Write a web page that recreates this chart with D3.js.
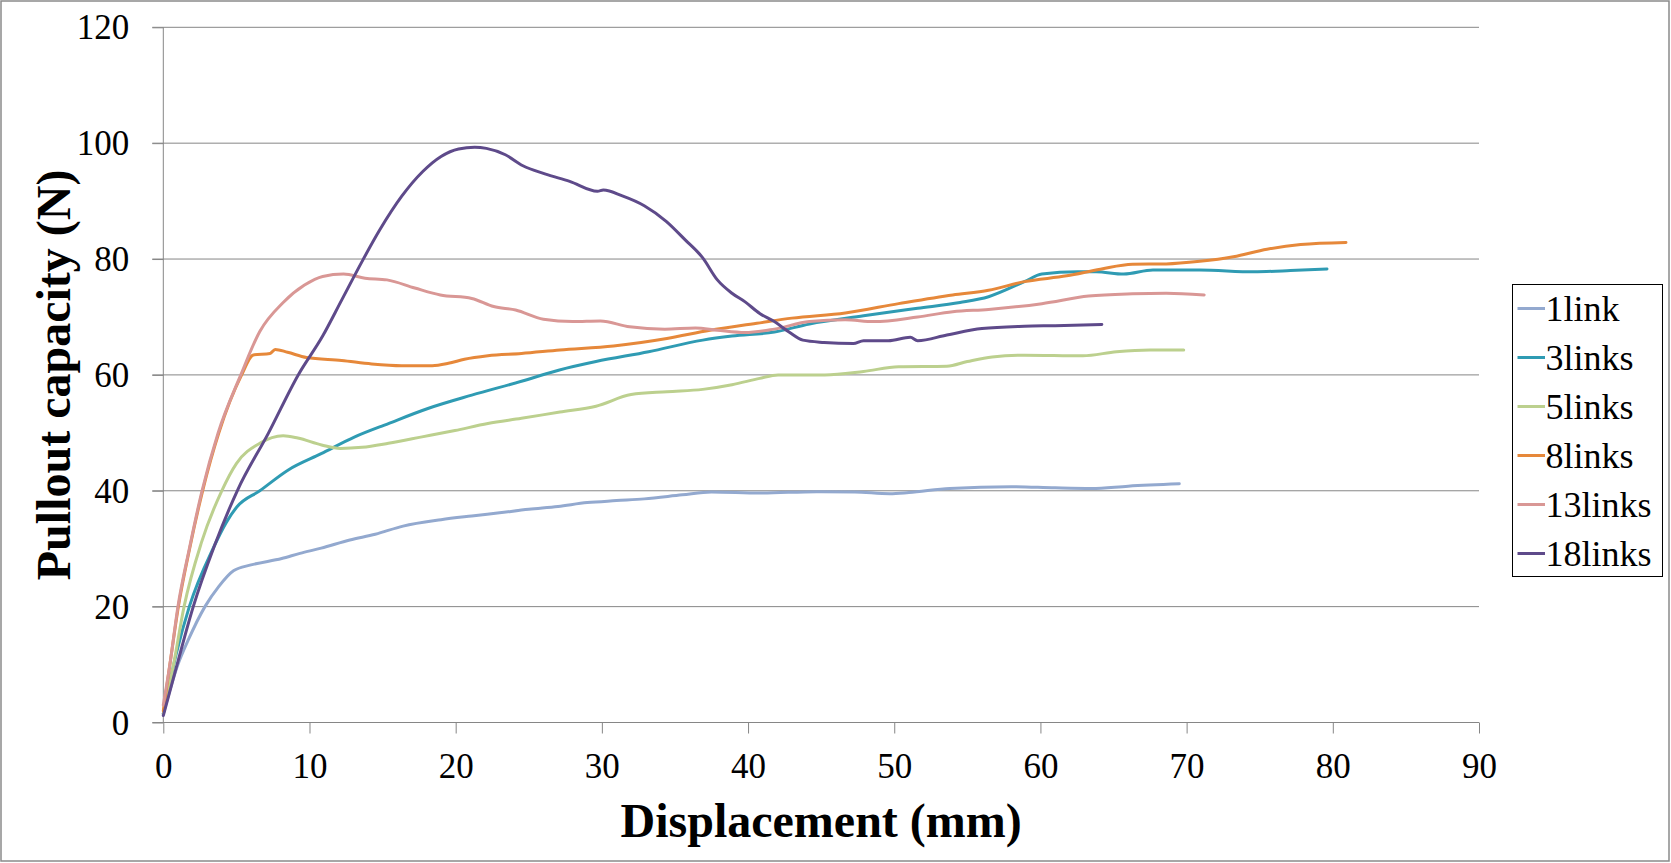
<!DOCTYPE html>
<html>
<head>
<meta charset="utf-8">
<script src="https://cdn.jsdelivr.net/npm/d3@7"></script>
<style>
  body { margin: 0; background: #fff; }
  svg text { font-family: "Liberation Serif", "Times New Roman", serif; fill: #000; }
  .grid line { stroke: #868686; stroke-width: 1; }
  .axis path, .axis line { stroke: #868686; }
  .axis text { font-size: 35px; }
</style>
</head>
<body>
<svg id="chart" width="1671" height="863"></svg>
<script>
// series names and colours
const seriesNames = ['1link', '3links', '5links', '8links', '13links', '18links'];
const seriesColors = ['#93a9cf', '#2f9bb3', '#bcd08e', '#e6883a', '#d99795', '#5e4a8a'];

const xTicks = [0, 10, 20, 30, 40, 50, 60, 70, 80, 90];
const yTicks = [0, 20, 40, 60, 80, 100, 120];

// [displacement (mm), pullout capacity (N)]
const link1 = [[0,1.5],[1,10],[1.7,14.2],[2.85,20],[3.8,23.5],[4.8,26.2],[6,27.2],[8.1,28.3],[9.35,29.2],
  [10.8,30.1],[12.76,31.5],[14.5,32.5],[16.4,33.9],[19,35],[21.1,35.65],[23,36.2],[25,36.8],[27,37.3],
  [29,37.96],[31,38.3],[32.9,38.6],[35.5,39.3],[37.5,39.8],[40.8,39.6],[44.7,39.85],[47.3,39.8],[49.7,39.5],
  [51,39.7],[53.8,40.4],[58,40.7],[61,40.5],[63.5,40.4],[66,40.8],[69.5,41.2]];

const links3 = [[0,1.5],[0.9,12],[1.78,20],[3.4,30],[4.3,34.5],[5.03,37.2],[6.6,40],[8.55,43.6],[10.8,46.4],
  [13.1,49.3],[15.4,51.6],[18.1,54.2],[21.1,56.5],[24.5,58.9],[27.1,60.85],[29.6,62.3],[33.2,64],
  [36.9,66],[38.9,66.7],[41.8,67.4],[44.2,68.8],[47.9,70.2],[51.6,71.5],[54.5,72.5],[56.45,73.5],
  [58.9,76.1],[60.1,77.4],[62.55,77.8],[63.8,77.8],[65.7,77.4],[67.7,78.1],[70.9,78.1],[74.6,77.8],
  [77.1,78],[79.6,78.3]];

const links5 = [[0,1.5],[0.7,10],[1.42,20],[2.6,31],[4,40],[5,44.7],[6.6,48.2],[8.2,49.5],[9.2,49.1],
  [10.83,47.9],[12.1,47.3],[13.6,47.5],[15.4,48.2],[17.7,49.3],[19.95,50.4],[22.2,51.6],[24.5,52.5],
  [27.13,53.6],[29.6,54.6],[32,56.6],[34.45,57.1],[36.9,57.5],[38.9,58.3],[40.8,59.4],[42.05,60],
  [45.25,60],[47.9,60.6],[50.3,61.4],[53.6,61.5],[55,62.3],[56.7,63.1],[58.9,63.4],[62.9,63.3],
  [65.2,64],[67.5,64.3],[69.8,64.3]];

const links8 = [[0,2],[0.45,10],[1.03,20],[1.8,30],[2.69,40],[3.8,50],[5.36,60],[6.16,63.45],[7.3,63.7],
  [7.65,64.4],[8.5,63.9],[9.8,63],[12.2,62.5],[14.25,61.9],[16.3,61.6],[18.4,61.6],[19.5,62],
  [20.6,62.7],[22.2,63.3],[24.5,63.7],[27.13,64.3],[30.8,65],[34.45,66.3],[37.4,67.7],[40.6,68.9],
  [43,69.8],[46.65,70.7],[50.3,72.3],[54,73.8],[56.45,74.6],[58.9,76.1],[61.8,77.1],[64.1,78.25],
  [66.3,79.1],[68.6,79.15],[70.9,79.6],[73.2,80.4],[75.5,81.7],[77.8,82.5],[80.9,82.85]];

const links13 = [[0,3],[0.45,10],[1.0,20],[1.78,30],[2.65,40],[3.75,50],[5.3,60],[6.6,67.5],[8.2,72.5],
  [9.66,75.5],[10.9,77],[12.33,77.4],[13.8,76.7],[15.3,76.4],[17.2,75],[18.95,73.8],
  [21.1,73.2],[22.6,71.8],[24.1,71.2],[26,69.6],[28,69.2],[29.9,69.3],[31.9,68.3],[34.3,67.9],
  [36.4,68.1],[37.9,67.7],[39.8,67.3],[41.8,67.9],[44.2,69.2],[46.65,69.5],[48.6,69.2],[51.6,70],
  [54,70.9],[56.45,71.3],[60.1,72.3],[63.3,73.6],[66.3,74],[68.6,74.1],[71.2,73.8]];

const links18 = [[0,1.2],[0.9,9.6],[2.05,20],[3.5,30.5],[5.06,40],[7.2,50],[9.23,60],[10.9,66.7],[12.2,72.9],
  [13.6,79.6],[14.8,85],[16.3,90.8],[17.75,95.1],[19,97.7],[20.2,99],[21.3,99.3],[22.1,99.1],
  [23.4,98],[24.6,96.1],[26.1,94.7],[27.8,93.4],[29.7,91.7],[30.1,91.9],[31.4,90.9],[32.9,89.2],
  [34.4,86.5],[35.7,83.3],[36.9,80.2],[37.9,76.4],[38.9,74.1],[39.8,72.6],[40.8,70.6],[41.8,69.2],
  [42.8,67.4],[43.75,66],[45.2,65.6],[47.2,65.4],[47.9,65.9],[49.6,65.9],[51.1,66.5],[51.6,65.9],
  [53.6,66.9],[56,68],[58.9,68.4],[61,68.5],[64.2,68.7]];

const seriesData = [link1, links3, links5, links8, links13, links18];

// layout
const svg = d3.select('#chart');
const plot = { left: 163.3, top: 27.3, right: 1479, bottom: 722.5 };

const x = d3.scaleLinear().domain([0, 90]).range([plot.left, plot.right]);
const y = d3.scaleLinear().domain([0, 120]).range([plot.bottom, plot.top]);

// outer border
svg.append('rect')
    .attr('x', 1).attr('y', 1)
    .attr('width', 1668).attr('height', 860)
    .attr('fill', 'none')
    .attr('stroke', '#8a8a8a')
    .attr('stroke-width', 1.5);

// horizontal gridlines (extend left as ticks)
svg.append('g')
    .attr('class', 'grid')
  .selectAll('line')
  .data(yTicks.filter(d => d > 0))
  .join('line')
    .attr('x1', plot.left - 11)
    .attr('x2', plot.right)
    .attr('y1', d => y(d))
    .attr('y2', d => y(d));

// axes
const yAxis = d3.axisLeft(y)
    .tickValues(yTicks)
    .tickSize(11)
    .tickPadding(23);

const xAxis = d3.axisBottom(x)
    .tickValues(xTicks)
    .tickSize(11);

svg.append('g')
    .attr('class', 'y axis')
    .attr('transform', `translate(${plot.left}, 0)`)
    .call(yAxis)
    .call(g => g.select('.domain').attr('d', `M0,${plot.top}V${plot.bottom}`))
    .call(g => g.selectAll('text').attr('dy', '0.33em'));

svg.append('g')
    .attr('class', 'x axis')
    .attr('transform', `translate(0, ${plot.bottom})`)
    .call(xAxis)
    .call(g => g.select('.domain').attr('d', `M${plot.left - 11},0H${plot.right}`))
    .call(g => g.selectAll('text').attr('dy', 0).attr('y', 55.5));

// axis titles
svg.append('text')
    .attr('x', (plot.left + plot.right) / 2)
    .attr('y', 836.5)
    .attr('text-anchor', 'middle')
    .attr('font-size', 48)
    .attr('font-weight', 'bold')
    .text('Displacement (mm)');

svg.append('text')
    .attr('transform', `translate(70, ${(plot.top + plot.bottom) / 2}) rotate(-90)`)
    .attr('text-anchor', 'middle')
    .attr('font-size', 48)
    .attr('font-weight', 'bold')
    .text('Pullout capacity (N)');

// lines
const line = d3.line()
    .x(d => x(d[0]))
    .y(d => y(d[1]))
    .curve(d3.curveMonotoneX);

svg.append('g')
    .attr('class', 'series')
  .selectAll('path')
  .data(seriesData)
  .join('path')
    .attr('fill', 'none')
    .attr('stroke', (d, i) => seriesColors[i])
    .attr('stroke-width', 3)
    .attr('stroke-linejoin', 'round')
    .attr('stroke-linecap', 'round')
    .attr('d', line);

// legend
const legend = svg.append('g')
    .attr('class', 'legend')
    .attr('transform', 'translate(1512.5, 284.5)');

legend.append('rect')
    .attr('width', 150)
    .attr('height', 292)
    .attr('fill', '#fff')
    .attr('stroke', '#000')
    .attr('stroke-width', 1);

const items = legend.selectAll('.item')
  .data(seriesNames)
  .join('g')
    .attr('class', 'item')
    .attr('transform', (d, i) => `translate(0, ${24 + i * 49})`);

items.append('line')
    .attr('x1', 5).attr('x2', 32.5)
    .attr('stroke', (d, i) => seriesColors[i])
    .attr('stroke-width', 3);

items.append('text')
    .attr('x', 33)
    .attr('y', 12)
    .attr('font-size', 36)
    .text(d => d);
</script>
</body>
</html>
